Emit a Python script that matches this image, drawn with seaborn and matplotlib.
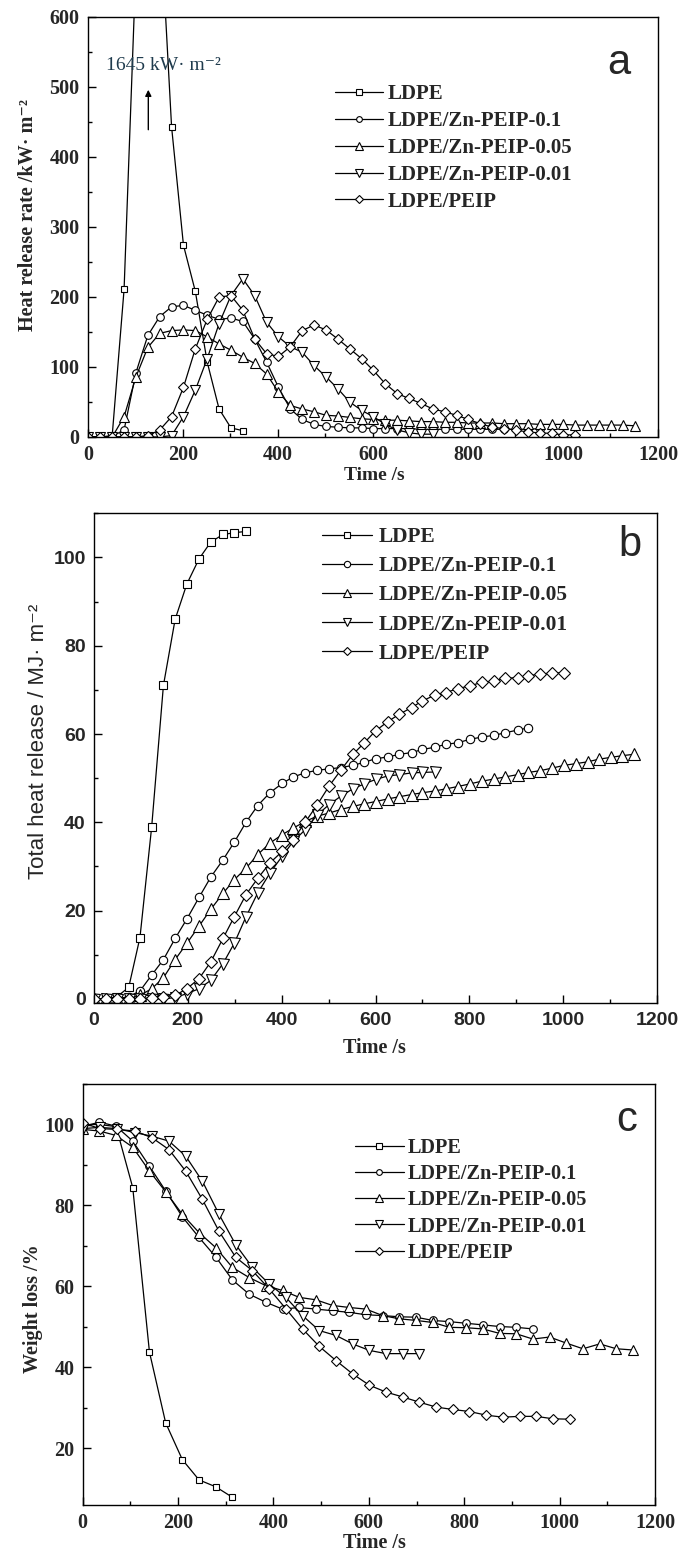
import matplotlib
matplotlib.use("Agg")
import matplotlib.pyplot as plt
import seaborn as sns
import pandas as pd
from matplotlib.font_manager import FontProperties

# ---------------- data ----------------
SAMPLES = ["LDPE", "LDPE/Zn-PEIP-0.1", "LDPE/Zn-PEIP-0.05", "LDPE/Zn-PEIP-0.01", "LDPE/PEIP"]
MARKERS = ["s", "o", "^", "v", "D"]

X_TICKS = [0, 200, 400, 600, 800, 1000, 1200]
A_YTICKS = [0, 100, 200, 300, 400, 500, 600]
B_YTICKS = [0, 20, 40, 60, 80, 100]
C_YTICKS = [20, 40, 60, 80, 100]

# (a) heat release rate, kW/m2
A_T = [1, 26, 51, 76, 101, 126, 151, 176, 201, 226, 251, 276, 301, 326, 351, 376, 401, 426,
       451, 476, 501, 526, 551, 576, 601, 626, 651, 676, 701, 726, 751, 776, 801, 826, 851,
       876, 901, 926, 951, 976, 1001, 1026, 1051, 1076, 1101, 1126, 1151]
A_LDPE = [0, 0, 2, 211, 674, 1645, 757, 443, 274, 208, 107, 40, 13, 9]
A_ZN01 = [0, 0, 1, 10, 92, 145, 172, 186, 188, 181, 174, 168, 170, 165, 140, 107, 71, 40, 25,
          18, 15, 14, 13, 13, 12, 12, 12, 12, 11, 11, 11, 11, 11, 11, 11, 11, 11, 11, 12]
A_ZN005 = [0, 0, 0, 29, 86, 128, 148, 152, 153, 152, 143, 133, 124, 114, 105, 90, 64, 45, 40,
           36, 31, 30, 28, 26, 25, 24, 24, 23, 22, 22, 21, 21, 20, 20, 20, 19, 19, 19, 18, 18,
           18, 17, 17, 17, 17, 17, 16]
A_ZN001 = [0, 0, 0, 0, 0, 0, 0, 2, 29, 67, 112, 162, 202, 226, 202, 164, 143, 129, 121, 102,
           86, 69, 50, 38, 29, 18, 10, 6, 4, 4]
A_PEIP = [0, 0, 0, 0, 0, 2, 10, 29, 71, 126, 168, 200, 202, 181, 140, 119, 115, 129, 152, 160,
          153, 140, 126, 112, 95, 76, 62, 55, 48, 40, 36, 31, 25, 19, 14, 12, 10, 7, 6, 5, 3, 3]

# (b) total heat release, MJ/m2
B_T = [0, 25, 49, 74, 98, 123, 148, 173, 198, 224, 249, 275, 299, 324, 349, 375, 401, 425,
       450, 476, 501, 526, 552, 576, 600, 626, 651, 677, 700, 726, 751, 775, 801, 826, 852,
       877, 903, 926, 951, 977, 1002, 1027, 1052, 1076, 1101, 1126, 1150]
B_LDPE = [0, 0, 0.5, 2.6, 13.9, 39, 71, 86, 94, 99.7, 103.5, 105.2, 105.6, 105.9]
B_ZN01 = [0, 0, 0, 0.5, 1.8, 5.4, 8.9, 13.7, 18.1, 23, 27.6, 31.5, 35.5, 40, 43.8, 46.7, 48.8,
          50.3, 51.2, 51.8, 52.1, 52.4, 52.9, 53.6, 54.4, 54.8, 55.4, 55.8, 56.5, 57, 57.7, 58,
          58.8, 59.3, 59.7, 60.3, 60.9, 61.4]
B_ZN005 = [0, 0, 0, 0, 0.8, 2.3, 4.8, 8.9, 12.6, 16.5, 20.3, 23.9, 27, 29.6, 32.7, 35.3, 37.2,
           38.7, 40.2, 41.4, 42.1, 42.9, 43.6, 44.2, 44.7, 45.3, 45.8, 46.3, 46.7, 47.1, 47.6,
           48.1, 48.7, 49.3, 49.8, 50.3, 50.8, 51.3, 51.7, 52.3, 52.9, 53.3, 53.7, 54.3, 54.7,
           55.1, 55.4]
B_ZN001 = [0, 0, 0, 0, 0, 0, 0, 0.3, 1.2, 2.3, 4.2, 8, 12.6, 18.6, 24, 28.5, 32.3, 35.7, 38.3,
           41.7, 44, 45.9, 47.6, 48.7, 49.7, 50.5, 50.8, 51.2, 51.3, 51.4]
B_PEIP = [0, 0, 0, 0, 0, 0.3, 0.5, 0.8, 2.3, 4.6, 8.4, 13.7, 18.6, 23.6, 27.3, 30.8, 33.4, 36.1,
          40, 44, 48.2, 51.8, 55.4, 58, 60.7, 62.8, 64.5, 66, 67.5, 68.8, 69.4, 70.3, 70.9,
          71.7, 72, 72.6, 72.8, 73.2, 73.6, 73.8, 73.9]

# (c) weight loss, %
C_T = [0, 35, 70, 105, 140, 174, 209, 244, 279, 314, 349, 384, 419, 454, 489, 524, 559, 594,
       629, 664, 699, 734, 769, 804, 839, 874, 909, 944, 979, 1014, 1049, 1084, 1119, 1154]
C_T2 = [0, 36, 71, 110, 146, 181, 216, 251, 286, 321, 356, 391, 426, 461, 496, 531, 566, 601,
        636, 671, 706, 741, 776, 811, 846, 881, 916, 951, 986, 1021]
C_LDPE = [100, 100, 99.5, 84.4, 43.8, 26.3, 17.2, 12.2, 10.5, 7.9]
C_ZN01 = [99.5, 100.6, 99.6, 95.9, 89.7, 83.6, 77.2, 72.1, 67.3, 61.6, 58.1, 56.1, 54.4, 54.8,
          54.4, 54.0, 53.6, 53.0, 52.8, 52.5, 52.4, 51.6, 51.3, 50.9, 50.5, 50.1, 49.9, 49.5]
C_ZN005 = [98.8, 98.4, 97.3, 94.4, 88.5, 83.4, 77.8, 73.3, 69.6, 64.7, 62.2, 60.2, 59, 57.3,
           56.7, 55.3, 54.8, 54.4, 52.8, 52, 51.6, 51.1, 49.9, 49.8, 49.5, 48.4, 48.3, 47, 47.5,
           46, 44.6, 45.8, 44.6, 44.3]
C_ZN001 = [99, 99.3, 99, 98, 97.1, 95.9, 92.2, 86, 77.8, 70.3, 64.7, 60.6, 57.3, 52.8, 49.1,
           47.9, 45.8, 44.2, 43.4, 43.4, 43.4]
C_PEIP = [100.4, 99, 98.8, 98.4, 96.7, 93.8, 88.5, 81.5, 73.6, 67.2, 63.9, 59.4, 54.5, 49.5,
          45.2, 41.7, 38.4, 35.6, 33.9, 32.7, 31.4, 30.2, 29.6, 29.1, 28.2, 27.7, 27.9, 27.9,
          27.3, 27.2]

# ---------------- style ----------------
sns.set_style("ticks")
SERIF = ["Liberation Serif", "DejaVu Serif"]
SANS = ["Liberation Sans", "DejaVu Sans"]
plt.rcParams["font.family"] = SERIF

fig = plt.figure(figsize=(6.81, 15.66), dpi=100)
ax_a = fig.add_axes([0.1292, 0.72095, 0.8370, 0.2682])
ax_b = fig.add_axes([0.1380, 0.35932, 0.8268, 0.3129])
ax_c = fig.add_axes([0.1214, 0.03895, 0.8404, 0.2688])

MSIZE = {"s": 5.0, "o": 5.5, "^": 7.2, "v": 7.2, "D": 5.4}


def draw(ax, series, msize_scale=1.0):
    for name, mk, (t, v) in zip(SAMPLES, MARKERS, series):
        df = pd.DataFrame({"t": t[:len(v)], "v": v})
        sns.lineplot(data=df, x="t", y="v", ax=ax, color="black", linewidth=0.9,
                     marker=mk, markersize=MSIZE[mk] * msize_scale,
                     markerfacecolor="white", markeredgecolor="black",
                     markeredgewidth=0.8, label=name, sort=False, estimator=None)


def style(ax, ylim, yticks, tickfam, ticksize):
    ax.set_xlim(0, 1200)
    ax.set_ylim(*ylim)
    ax.set_xticks(X_TICKS)
    ax.set_xticklabels([str(x) for x in X_TICKS], fontfamily=tickfam,
                       fontweight="bold", fontsize=ticksize)
    ax.set_yticks(yticks)
    ax.set_yticklabels([str(y) for y in yticks], fontfamily=tickfam,
                       fontweight="bold", fontsize=ticksize)
    ax.set_xticks(range(100, 1200, 200), minor=True)
    step = yticks[1] - yticks[0]
    ymin_ticks = [y + step / 2 for y in yticks if ylim[0] <= y + step / 2 <= ylim[1]]
    ax.set_yticks(ymin_ticks, minor=True)
    ax.tick_params(which="both", direction="in", top=False, right=False,
                   color="black", width=1.0)
    ax.tick_params(which="major", length=6, pad=6)
    ax.tick_params(which="minor", length=3)
    for sp in ax.spines.values():
        sp.set_visible(True)
        sp.set_linewidth(1.0)
        sp.set_color("black")


# ---- panel a ----
draw(ax_a, [(A_T, A_LDPE), (A_T, A_ZN01), (A_T, A_ZN005), (A_T, A_ZN001), (A_T, A_PEIP)])
style(ax_a, (0, 600), A_YTICKS, SERIF, 14.5)
ax_a.set_xlabel("Time /s", fontfamily=SERIF, fontweight="bold", fontsize=14)
ax_a.set_ylabel("Heat release rate /kW\u00b7 m\u207b\u00b2", fontfamily=SERIF,
                fontweight="bold", fontsize=14.5)
ax_a.xaxis.set_label_coords(0.503, -0.092)
ax_a.xaxis.label.set_va("center")
ax_a.yaxis.set_label_coords(-0.105, 0.529)
ax_a.yaxis.label.set_va("center")
ax_a.legend(loc="upper left", bbox_to_anchor=(0.433, 0.84), frameon=False,
            prop=FontProperties(family=SERIF, weight="bold", size=15),
            handlelength=2.3, handletextpad=0.25, labelspacing=0.33,
            borderpad=0, borderaxespad=0, markerscale=0.75)
ax_a.text(0.932, 0.89, "a", transform=ax_a.transAxes, ha="center", va="center",
          fontfamily=SANS, fontsize=30)
ax_a.annotate("", xy=(127, 500), xytext=(127, 435),
              arrowprops=dict(arrowstyle="-|>", color="black", lw=1.0, mutation_scale=9))
ax_a.text(158, 531, "1645 kW\u00b7 m\u207b\u00b2", ha="center", va="center",
          fontfamily=SERIF, fontsize=14, color="#1f3b4d")

# ---- panel b ----
draw(ax_b, [(B_T, B_LDPE), (B_T, B_ZN01), (B_T, B_ZN005), (B_T, B_ZN001), (B_T, B_PEIP)], 1.1)
style(ax_b, (-1, 110), B_YTICKS, SANS, 14)
ax_b.set_xlabel("Time /s", fontfamily=SERIF, fontweight="bold", fontsize=14.5)
ax_b.set_ylabel("Total heat release / MJ\u00b7 m\u207b\u00b2", fontfamily=SANS, fontsize=16)
ax_b.xaxis.set_label_coords(0.4986, -0.091)
ax_b.xaxis.label.set_va("center")
ax_b.yaxis.set_label_coords(-0.0977, 0.535)
ax_b.yaxis.label.set_va("center")
ax_b.legend(loc="upper left", bbox_to_anchor=(0.405, 0.972), frameon=False,
            prop=FontProperties(family=SERIF, weight="bold", size=15.4),
            handlelength=2.35, handletextpad=0.3, labelspacing=0.43,
            borderpad=0, borderaxespad=0, markerscale=0.75)
ax_b.text(0.951, 0.935, "b", transform=ax_b.transAxes, ha="center", va="center",
          fontfamily=SANS, fontsize=30)

# ---- panel c ----
draw(ax_c, [(C_T, C_LDPE), (C_T, C_ZN01), (C_T, C_ZN005), (C_T2, C_ZN001), (C_T2, C_PEIP)])
style(ax_c, (6, 110), C_YTICKS, SERIF, 14.5)
ax_c.set_xlabel("Time /s", fontfamily=SERIF, fontweight="bold", fontsize=14.5)
ax_c.set_ylabel("Weight loss /%", fontfamily=SERIF, fontweight="bold", fontsize=14.5)
ax_c.xaxis.set_label_coords(0.51, -0.09)
ax_c.xaxis.label.set_va("center")
ax_c.yaxis.set_label_coords(-0.087, 0.467)
ax_c.yaxis.label.set_va("center")
ax_c.legend(loc="upper left", bbox_to_anchor=(0.476, 0.8725), frameon=False,
            prop=FontProperties(family=SERIF, weight="bold", size=14.6),
            handlelength=2.4, handletextpad=0.2, labelspacing=0.31,
            borderpad=0, borderaxespad=0, markerscale=0.75)
ax_c.text(0.95, 0.914, "c", transform=ax_c.transAxes, ha="center", va="center",
          fontfamily=SANS, fontsize=30)

fig.savefig("out.png", dpi=100, facecolor="white")
